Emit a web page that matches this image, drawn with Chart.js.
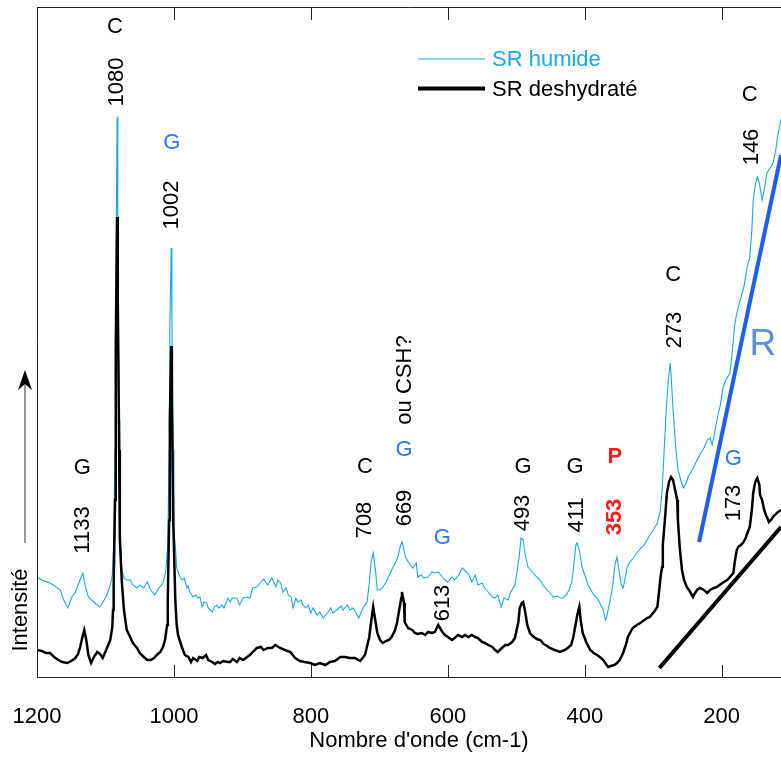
<!DOCTYPE html>
<html>
<head>
<meta charset="utf-8">
<script src="https://cdn.jsdelivr.net/npm/chart.js@4/dist/chart.umd.min.js"></script>
<style>
  html, body { margin: 0; padding: 0; background: #fff; }
  canvas { display: block; }
</style>
</head>
<body>
<canvas id="chart" width="781" height="758"></canvas>
<script>
const FONT = '"Liberation Sans", Arial, sans-serif';
const HUMID_COLOR = '#19a8e6';
const BLUE_TXT = '#2f78f2';

const xTicks = [1200, 1000, 800, 600, 400, 200];

// SR humide (wavenumber cm-1 / intensity, arbitrary units)
const humidWave = [
  1200, 1193, 1181, 1174, 1166, 1161, 1155, 1149, 1144, 1140,
  1136, 1133, 1130, 1125, 1120, 1114, 1108, 1102, 1098, 1093,
  1090, 1088, 1086, 1085, 1083, 1082, 1080, 1079, 1076, 1073,
  1069, 1064, 1060, 1054, 1050, 1044, 1039, 1034, 1028, 1022,
  1016, 1012, 1009, 1007, 1006, 1004, 1003, 1001, 1000, 997,
  996, 991, 988, 985, 981, 979, 977, 972, 968, 965,
  962, 959, 956, 952, 950, 944, 941, 937, 934, 930,
  927, 921, 918, 915, 908, 904, 899, 893, 889, 885,
  879, 874, 869, 863, 857, 851, 848, 844, 841, 836,
  833, 829, 826, 822, 819, 814, 812, 807, 804, 800,
  797, 791, 787, 782, 776, 771, 768, 762, 756, 753,
  747, 743, 738, 734, 730, 724, 718, 715, 712, 709,
  706, 703, 699, 695, 690, 686, 680, 676, 673, 670,
  667, 664, 662, 655, 651, 646, 644, 639, 635, 629,
  623, 619, 614, 608, 604, 600, 594, 590, 584, 579,
  573, 569, 565, 560, 556, 550, 546, 541, 535, 531,
  527, 522, 518, 512, 508, 502, 496, 493, 490, 487,
  483, 479, 474, 470, 465, 461, 455, 451, 446, 441,
  436, 432, 427, 423, 419, 416, 413, 411, 408, 404,
  400, 395, 391, 387, 382, 378, 373, 370, 368, 363,
  359, 356, 353, 350, 347, 344, 341, 338, 334, 328,
  324, 318, 313, 309, 305, 300, 294, 290, 287, 284,
  281, 278, 275, 274, 271, 268, 264, 259, 256, 252,
  249, 245, 240, 236, 232, 226, 221, 217, 214, 211,
  207, 202, 198, 194, 188, 185, 183, 181, 178, 173,
  170, 167, 163, 159, 156, 154, 151, 148, 145, 141,
  138, 134, 129, 125, 121, 118, 113,
];
const humidInt = [
  100, 97, 94, 91, 87, 77, 69, 80, 85, 92,
  99, 104, 92, 80, 77, 73, 70, 77, 82, 92,
  102, 137, 227, 377, 560, 427, 257, 157, 107, 99,
  97, 97, 92, 89, 92, 89, 95, 87, 82, 89,
  94, 105, 132, 227, 347, 429, 357, 227, 147, 122,
  109, 100, 97, 99, 89, 91, 85, 80, 82, 79,
  80, 70, 75, 74, 69, 65, 70, 72, 69, 72,
  69, 79, 75, 79, 79, 72, 79, 80, 79, 89,
  90, 94, 98, 92, 99, 90, 97, 94, 85, 89,
  82, 80, 69, 79, 75, 77, 72, 69, 72, 64,
  69, 62, 65, 59, 64, 69, 64, 67, 71, 67,
  72, 67, 69, 64, 59, 69, 75, 92, 115, 124,
  109, 87, 87, 90, 95, 101, 110, 115, 120, 129,
  135, 127, 120, 112, 109, 114, 100, 102, 99, 100,
  105, 104, 105, 100, 97, 95, 100, 97, 102, 109,
  105, 102, 95, 102, 92, 94, 89, 85, 80, 79,
  82, 70, 79, 77, 85, 92, 119, 139, 137, 122,
  110, 107, 103, 100, 97, 92, 87, 84, 80, 81,
  79, 79, 82, 87, 95, 112, 132, 134, 127, 110,
  102, 92, 87, 82, 79, 74, 67, 57, 60, 77,
  92, 112, 120, 107, 93, 89, 99, 110, 115, 120,
  124, 129, 132, 137, 142, 147, 154, 165, 187, 227,
  267, 297, 314, 302, 267, 237, 207, 195, 189, 194,
  200, 205, 211, 217, 222, 229, 237, 239, 232, 242,
  257, 272, 290, 297, 304, 322, 337, 352, 364, 377,
  384, 392, 410, 419, 447, 477, 492, 500, 494, 477,
  487, 504, 509, 514, 527, 542, 559,
];

// SR deshydraté
const dryWave = [
  1200, 1193, 1187, 1181, 1175, 1169, 1163, 1156, 1150, 1144,
  1140, 1137, 1134, 1131, 1128, 1125, 1121, 1117, 1112, 1108,
  1104, 1099, 1096, 1093, 1090, 1089, 1088, 1086, 1085, 1083,
  1082, 1080, 1079, 1076, 1073, 1069, 1064, 1060, 1054, 1050,
  1044, 1039, 1034, 1029, 1025, 1020, 1016, 1013, 1010, 1009,
  1007, 1006, 1004, 1003, 1001, 998, 996, 994, 988, 984,
  979, 975, 972, 966, 963, 958, 953, 950, 944, 940,
  936, 933, 928, 922, 918, 914, 908, 904, 899, 893,
  889, 885, 879, 873, 869, 863, 857, 852, 845, 838,
  830, 823, 816, 809, 801, 794, 787, 779, 772, 765,
  757, 750, 743, 736, 728, 721, 715, 712, 709, 706,
  703, 699, 695, 690, 686, 682, 677, 674, 671, 668,
  667, 664, 663, 658, 652, 648, 644, 638, 633, 629,
  623, 619, 614, 608, 604, 600, 594, 590, 585, 579,
  575, 570, 565, 560, 556, 550, 546, 541, 535, 531,
  527, 521, 516, 512, 506, 502, 497, 495, 492, 490,
  487, 484, 480, 476, 470, 465, 460, 455, 451, 444,
  436, 429, 425, 420, 417, 414, 411, 408, 406, 403,
  398, 392, 387, 382, 378, 373, 369, 366, 362, 357,
  353, 349, 344, 340, 337, 334, 330, 324, 319, 313,
  309, 305, 299, 294, 292, 289, 287, 286, 283, 280,
  277, 274, 271, 268, 265, 264, 261, 258, 255, 251,
  246, 242, 239, 236, 232, 226, 221, 217, 211, 207,
  199, 197, 192, 188, 183, 181, 178, 176, 172, 169,
  165, 162, 159, 156, 154, 151, 148, 145, 144, 141,
  138, 135, 134, 131, 128, 125, 121, 118, 113,
];
const dryInt = [
  27, 26, 24, 24, 20, 17, 15, 14, 16, 19,
  23, 30, 39, 47, 37, 22, 14, 20, 25, 23,
  19, 27, 32, 37, 50, 67, 94, 177, 327, 460,
  377, 227, 137, 94, 67, 47, 40, 34, 29, 24,
  20, 17, 17, 19, 22, 25, 30, 37, 52, 77,
  157, 257, 331, 277, 157, 77, 52, 42, 29, 22,
  20, 15, 19, 16, 20, 19, 22, 17, 15, 13,
  15, 14, 16, 15, 15, 18, 15, 19, 17, 20,
  22, 25, 29, 30, 27, 29, 29, 32, 29, 27,
  25, 19, 16, 15, 14, 12, 14, 12, 15, 16,
  20, 20, 19, 19, 16, 22, 39, 55, 70, 57,
  44, 37, 34, 36, 37, 40, 47, 55, 67, 79,
  85, 74, 55, 49, 47, 44, 43, 44, 42, 45,
  44, 45, 52, 45, 42, 40, 37, 39, 42, 40,
  42, 40, 42, 40, 39, 35, 34, 32, 30, 27,
  25, 29, 32, 32, 35, 39, 55, 69, 74, 75,
  65, 52, 44, 41, 38, 37, 33, 31, 29, 27,
  25, 27, 29, 32, 39, 50, 62, 70, 57, 44,
  35, 27, 24, 22, 20, 17, 13, 10, 11, 12,
  14, 17, 24, 32, 40, 44, 49, 52, 54, 57,
  59, 60, 65, 70, 82, 102, 110, 132, 157, 184,
  195, 200, 197, 187, 177, 157, 127, 107, 97, 90,
  85, 80, 84, 87, 89, 87, 84, 87, 89, 90,
  94, 95, 97, 100, 104, 115, 127, 130, 132, 134,
  139, 145, 150, 167, 184, 195, 199, 192, 182, 177,
  167, 161, 160, 155, 157, 160, 163, 165, 167,
];

// guide lines drawn on the figure
const rLineWave = [233, 113.4];
const rLineInt = [135, 522];
const baseLineWave = [291, 113.4];
const baseLineInt = [9, 150];

// peak annotations: position in wavenumber / intensity units
const peakLabels = [
  { text: 'C', wave: 1086, level: 650 },
  { text: '1080', wave: 1083, level: 595, rotate: true },
  { text: 'G', wave: 1003, level: 534, color: BLUE_TXT },
  { text: '1002', wave: 1003, level: 472, rotate: true },
  { text: 'G', wave: 1134, level: 209 },
  { text: '1133', wave: 1133, level: 147, rotate: true },
  { text: 'C', wave: 721, level: 210 },
  { text: '708', wave: 721, level: 157, rotate: true },
  { text: 'ou CSH?', wave: 663, level: 297, rotate: true },
  { text: 'G', wave: 664, level: 227, color: BLUE_TXT },
  { text: '669', wave: 663, level: 169, rotate: true },
  { text: 'G', wave: 608, level: 139, color: BLUE_TXT },
  { text: '613', wave: 607, level: 74, rotate: true },
  { text: 'G', wave: 490, level: 210 },
  { text: '493', wave: 490, level: 164, rotate: true },
  { text: 'G', wave: 414, level: 210 },
  { text: '411', wave: 411, level: 162, rotate: true },
  { text: 'P', wave: 356, level: 220, color: '#ff1a1a', bold: true },
  { text: '353', wave: 356, level: 160, rotate: true, color: '#ff1a1a', bold: true },
  { text: 'C', wave: 271, level: 402 },
  { text: '273', wave: 268, level: 347, rotate: true },
  { text: 'G', wave: 183, level: 218, color: BLUE_TXT },
  { text: '173', wave: 182, level: 174, rotate: true },
  { text: 'C', wave: 159, level: 582 },
  { text: '146', wave: 156, level: 530, rotate: true },
  { text: 'R', wave: 140, level: 332, color: '#5b8fd5', size: 37 },
];

function toPoints(waves, values) {
  return waves.map((w, i) => ({ x: w, y: values[i] }));
}

function drawText(ctx, text, px, py, opts) {
  ctx.save();
  ctx.translate(px, py);
  if (opts.rotate) ctx.rotate(-Math.PI / 2);
  ctx.font = `${opts.bold ? 'bold ' : ''}${opts.size || 22}px ${FONT}`;
  ctx.fillStyle = opts.color || '#000';
  ctx.textAlign = opts.align || 'center';
  ctx.textBaseline = 'middle';
  ctx.fillText(text, 0, 0);
  ctx.restore();
}

const decorPlugin = {
  id: 'decor',
  afterDatasetsDraw(chart) {
    const { ctx, chartArea: a, scales: { x, y } } = chart;
    ctx.save();

    // frame (left, top, bottom) with inward ticks
    ctx.strokeStyle = '#262626';
    ctx.lineWidth = 1;
    ctx.beginPath();
    ctx.moveTo(a.left + 0.5, a.bottom + 0.5);
    ctx.lineTo(a.left + 0.5, a.top + 0.5);
    ctx.lineTo(a.right, a.top + 0.5);
    ctx.moveTo(a.left, a.bottom + 0.5);
    ctx.lineTo(a.right, a.bottom + 0.5);
    xTicks.forEach((v) => {
      const px = Math.round(x.getPixelForValue(v)) + 0.5;
      ctx.moveTo(px, a.bottom);
      ctx.lineTo(px, a.bottom - 12);
      ctx.moveTo(px, a.top);
      ctx.lineTo(px, a.top + 13);
    });
    ctx.stroke();

    peakLabels.forEach((l) => {
      drawText(ctx, l.text, x.getPixelForValue(l.wave), y.getPixelForValue(l.level), l);
    });

    // legend
    const ds = chart.data.datasets;
    const legendRows = [ds[1], ds[0]];
    legendRows.forEach((d, i) => {
      const ly = 59 + i * 29.5;
      ctx.strokeStyle = d.borderColor;
      ctx.lineWidth = i === 0 ? 1 : 4;
      ctx.beginPath();
      ctx.moveTo(418, ly);
      ctx.lineTo(485, ly);
      ctx.stroke();
      drawText(ctx, d.label, 492, ly + 1, { align: 'left', color: d.borderColor });
    });

    // y axis label with arrow
    drawText(ctx, 'Intensité', 21, 610, { rotate: true });
    ctx.strokeStyle = '#555';
    ctx.lineWidth = 1.2;
    ctx.beginPath();
    ctx.moveTo(25, 543);
    ctx.lineTo(25, 380);
    ctx.stroke();
    ctx.fillStyle = '#000';
    ctx.beginPath();
    ctx.moveTo(25, 370);
    ctx.lineTo(32, 390);
    ctx.lineTo(25, 384);
    ctx.lineTo(18, 390);
    ctx.closePath();
    ctx.fill();

    // x axis title
    drawText(ctx, "Nombre d'onde (cm-1)", 419, 741, {});
    ctx.restore();
  },
};

new Chart(document.getElementById('chart'), {
  type: 'line',
  data: {
    datasets: [
      {
        label: 'SR deshydraté',
        data: toPoints(dryWave, dryInt),
        borderColor: '#000000',
        borderWidth: 2.5,
        pointRadius: 0,
        tension: 0,
        order: 1,
      },
      {
        label: 'SR humide',
        data: toPoints(humidWave, humidInt),
        borderColor: HUMID_COLOR,
        borderWidth: 1.1,
        pointRadius: 0,
        tension: 0,
        order: 2,
      },
      {
        label: 'R',
        data: toPoints(rLineWave, rLineInt),
        borderColor: '#1e5ef2',
        borderWidth: 4,
        pointRadius: 0,
        order: 0,
      },
      {
        label: 'base',
        data: toPoints(baseLineWave, baseLineInt),
        borderColor: '#000000',
        borderWidth: 4,
        pointRadius: 0,
        order: 0,
      },
    ],
  },
  options: {
    responsive: false,
    animation: false,
    layout: { padding: { left: 37, top: 7, right: 0, bottom: 0 } },
    plugins: { legend: { display: false }, tooltip: { enabled: false } },
    scales: {
      x: {
        type: 'linear',
        reverse: true,
        min: 113.4,
        max: 1200,
        afterBuildTicks: (scale) => {
          scale.ticks = xTicks.map((v) => ({ value: v }));
        },
        afterFit: (scale) => {
          scale.height = 81;
          scale.paddingLeft = 0;
          scale.paddingRight = 0;
        },
        grid: { display: false, drawTicks: false },
        border: { display: false },
        ticks: {
          autoSkip: false,
          maxRotation: 0,
          padding: 27,
          color: '#000',
          font: { family: FONT, size: 22 },
          callback: (v) => String(v),
        },
      },
      y: {
        display: false,
        min: 0,
        max: 670,
      },
    },
  },
  plugins: [decorPlugin],
});
</script>
</body>
</html>
